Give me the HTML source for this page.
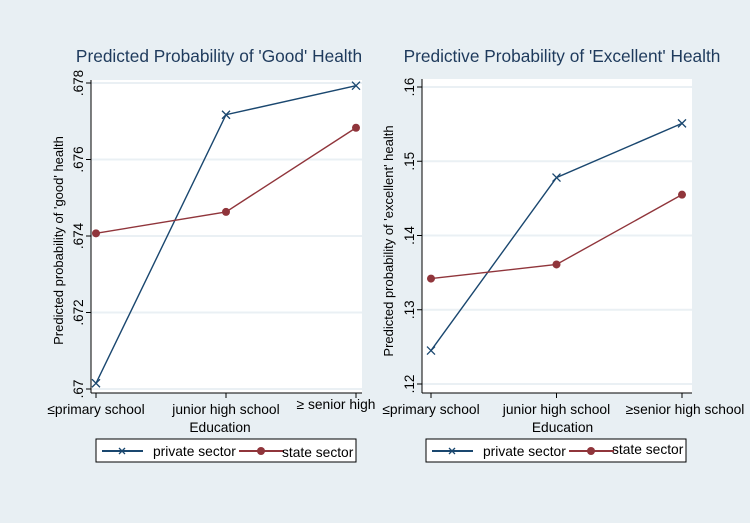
<!DOCTYPE html>
<html><head><meta charset="utf-8"><style>
body{margin:0;background:#fff;}
svg{display:block;font-family:"Liberation Sans",sans-serif;}
</style></head><body>
<svg id="c" width="752" height="526" xmlns="http://www.w3.org/2000/svg">
<defs><clipPath id="leftclip"><rect x="0" y="0" width="376" height="526"/></clipPath></defs>
<rect x="0" y="0" width="750" height="523" fill="#e8eff3"/>
</svg>
<script>
const categories1 = ["≤primary school", "junior high school", "≥ senior high"];
const categories2 = ["≤primary school", "junior high school", "≥senior high school"];
const privateGood = [0.67015, 0.67717, 0.67793];
const stateGood = [0.67407, 0.67463, 0.67683];
const privateExc = [0.1245, 0.1478, 0.1551];
const stateExc = [0.1342, 0.1361, 0.1455];
const ticksGood = [0.670, 0.672, 0.674, 0.676, 0.678];
const tickLabelsGood = [".67", ".672", ".674", ".676", ".678"];
const ticksExc = [0.12, 0.13, 0.14, 0.15, 0.16];
const tickLabelsExc = [".12", ".13", ".14", ".15", ".16"];
const seriesNames = ["private sector", "state sector"];

const NS = "http://www.w3.org/2000/svg";
const svg = document.getElementById('c');
const BLUE = "#1a476f", RED = "#90353b";
function mk(tag, attrs, parent) {
  const e = document.createElementNS(NS, tag);
  for (const k in attrs) e.setAttribute(k, attrs[k]);
  (parent || svg).appendChild(e);
  return e;
}
function panel(cfg) {
  const g = mk('g', {});
  
  
  const yS = v => cfg.yTop + (cfg.yMax - v) / (cfg.yMax - cfg.yMin) * (cfg.yBot - cfg.yTop);
  const xS = i => cfg.xs[0] + i * (cfg.xs[1] - cfg.xs[0]);
  const pa = mk('rect', {x: cfg.axisX, y: cfg.plotTop, width: cfg.plotRight - cfg.axisX, height: cfg.axisY - cfg.plotTop, fill: '#fff'}, g);
  
  
  const t = mk('text', {x: cfg.titleX, y: 62, 'text-anchor': 'middle', 'font-size': 17.3, fill: '#1e3a5c'}, g);
  t.textContent = cfg.title;
  
  
  cfg.ticks.forEach((v, i) => {
    const y = yS(v);
    const gl = mk('line', {x1: cfg.axisX, x2: cfg.plotRight, y1: y, y2: y, stroke: '#eaf0f4', 'stroke-width': 2}, g);
    
    
    mk('line', {x1: cfg.axisX - 5, x2: cfg.axisX, y1: y, y2: y, stroke: '#000'}, g);
    const tl = mk('text', {x: 0, y: 0, transform: `translate(${cfg.axisX - 8},${y}) rotate(-90)`, 'text-anchor': 'middle', 'font-size': 13.5, fill: '#000'}, g);
    tl.textContent = cfg.tickLabels[i];
    
    
  });
  mk('line', {x1: cfg.axisX, x2: cfg.axisX, y1: cfg.plotTop, y2: cfg.axisY, stroke: '#000'}, g);
  mk('line', {x1: cfg.axisX, x2: cfg.plotRight, y1: cfg.axisY, y2: cfg.axisY, stroke: '#000'}, g);
  cfg.cats.forEach((c, i) => {
    const x = xS(i);
    mk('line', {x1: x, x2: x, y1: cfg.axisY, y2: cfg.axisY + 5, stroke: '#000'}, g);
    const xl = mk('text', {x: x + (i === 2 ? cfg.lastShift : 0), y: i === 2 && cfg.lastUp ? 409 : 414, 'text-anchor': 'middle', 'font-size': 13.8, fill: '#000'}, g);
    if (i === 2 && cfg.clip) xl.setAttribute('clip-path', 'url(#leftclip)');
    xl.textContent = c;
    
    
  });
  const xt = mk('text', {x: (cfg.xs[0] + cfg.xs[1] * 2 - cfg.xs[0]) / 2 + cfg.xtOff, y: 432, 'text-anchor': 'middle', 'font-size': 13.8, fill: '#000'}, g);
  xt.textContent = 'Education';
  
  
  const yt = mk('text', {x: 0, y: 0, transform: `translate(${cfg.yTitleX},${(cfg.plotTop + cfg.axisY) / 2 + cfg.yTitleOff}) rotate(-90)`, 'text-anchor': 'middle', 'font-size': 13, fill: '#000'}, g);
  yt.textContent = cfg.yTitle;
  
  
  [[cfg.priv, BLUE, 'private'], [cfg.state, RED, 'state']].forEach(([vals, col, nm]) => {
    const pl = mk('polyline', {points: vals.map((v, i) => xS(i) + ',' + yS(v)).join(' '), fill: 'none', stroke: col, 'stroke-width': 1.4}, g);
    
    
    vals.forEach((v, i) => {
      const x = xS(i), y = yS(v);
      if (nm === 'private') {
        const p = mk('path', {d: `M${x-4},${y-4}L${x+4},${y+4}M${x-4},${y+4}L${x+4},${y-4}`, stroke: col, 'stroke-width': 1.3}, g);
        
        
      } else {
        const p = mk('circle', {cx: x, cy: y, r: 4, fill: col}, g);
        
        
      }
    });
  });
  const lg = mk('g', {}, g);
  
  
  const L = cfg.legX;
  mk('rect', {x: L, y: 439, width: 260, height: 23, fill: '#fff', stroke: '#000'}, lg);
  mk('line', {x1: L + 6, x2: L + 47, y1: 451, y2: 451, stroke: BLUE, 'stroke-width': 2}, lg);
  mk('path', {d: `M${L+23},${448}L${L+29},${454}M${L+23},${454}L${L+29},${448}`, stroke: BLUE, 'stroke-width': 1.3}, lg);
  const t1 = mk('text', {x: L + 57, y: 456, 'font-size': 13.8}, lg);
  t1.textContent = seriesNames[0];
  
  
  mk('line', {x1: L + 143, x2: L + 188, y1: 451, y2: 451, stroke: RED, 'stroke-width': 2}, lg);
  mk('circle', {cx: L + 165, cy: 451, r: 4, fill: RED}, lg);
  const t2 = mk('text', {x: L + 186, y: cfg.legT2y, 'font-size': 13.8}, lg);
  t2.textContent = seriesNames[1];
  
  
}
panel({name: 'good-health-panel', title: "Predicted Probability of 'Good' Health", titleX: 219,
  axisX: 91, plotTop: 80, plotRight: 362, axisY: 393, yTop: 83, yBot: 389, yMin: 0.670, yMax: 0.678,
  xs: [96, 226], ticks: ticksGood, tickLabels: tickLabelsGood, cats: categories1, lastShift: -20, lastUp: true, clip: true,
  priv: privateGood, state: stateGood, yTitle: "Predicted probability of 'good' health", yTitleX: 63, yTitleOff: 4,
  xtOff: -6, legX: 96, legT2y: 457});
panel({name: 'excellent-health-panel', title: "Predictive Probability of 'Excellent' Health", titleX: 562,
  axisX: 422, plotTop: 79, plotRight: 692, axisY: 393, yTop: 87, yBot: 384, yMin: 0.12, yMax: 0.16,
  xs: [431, 556.5], ticks: ticksExc, tickLabels: tickLabelsExc, cats: categories2, lastShift: 3, lastUp: false, clip: false,
  priv: privateExc, state: stateExc, yTitle: "Predicted probability of 'excellent' health", yTitleX: 393, yTitleOff: 5,
  xtOff: 6, legX: 426, legT2y: 454});
</script>
</body></html>
